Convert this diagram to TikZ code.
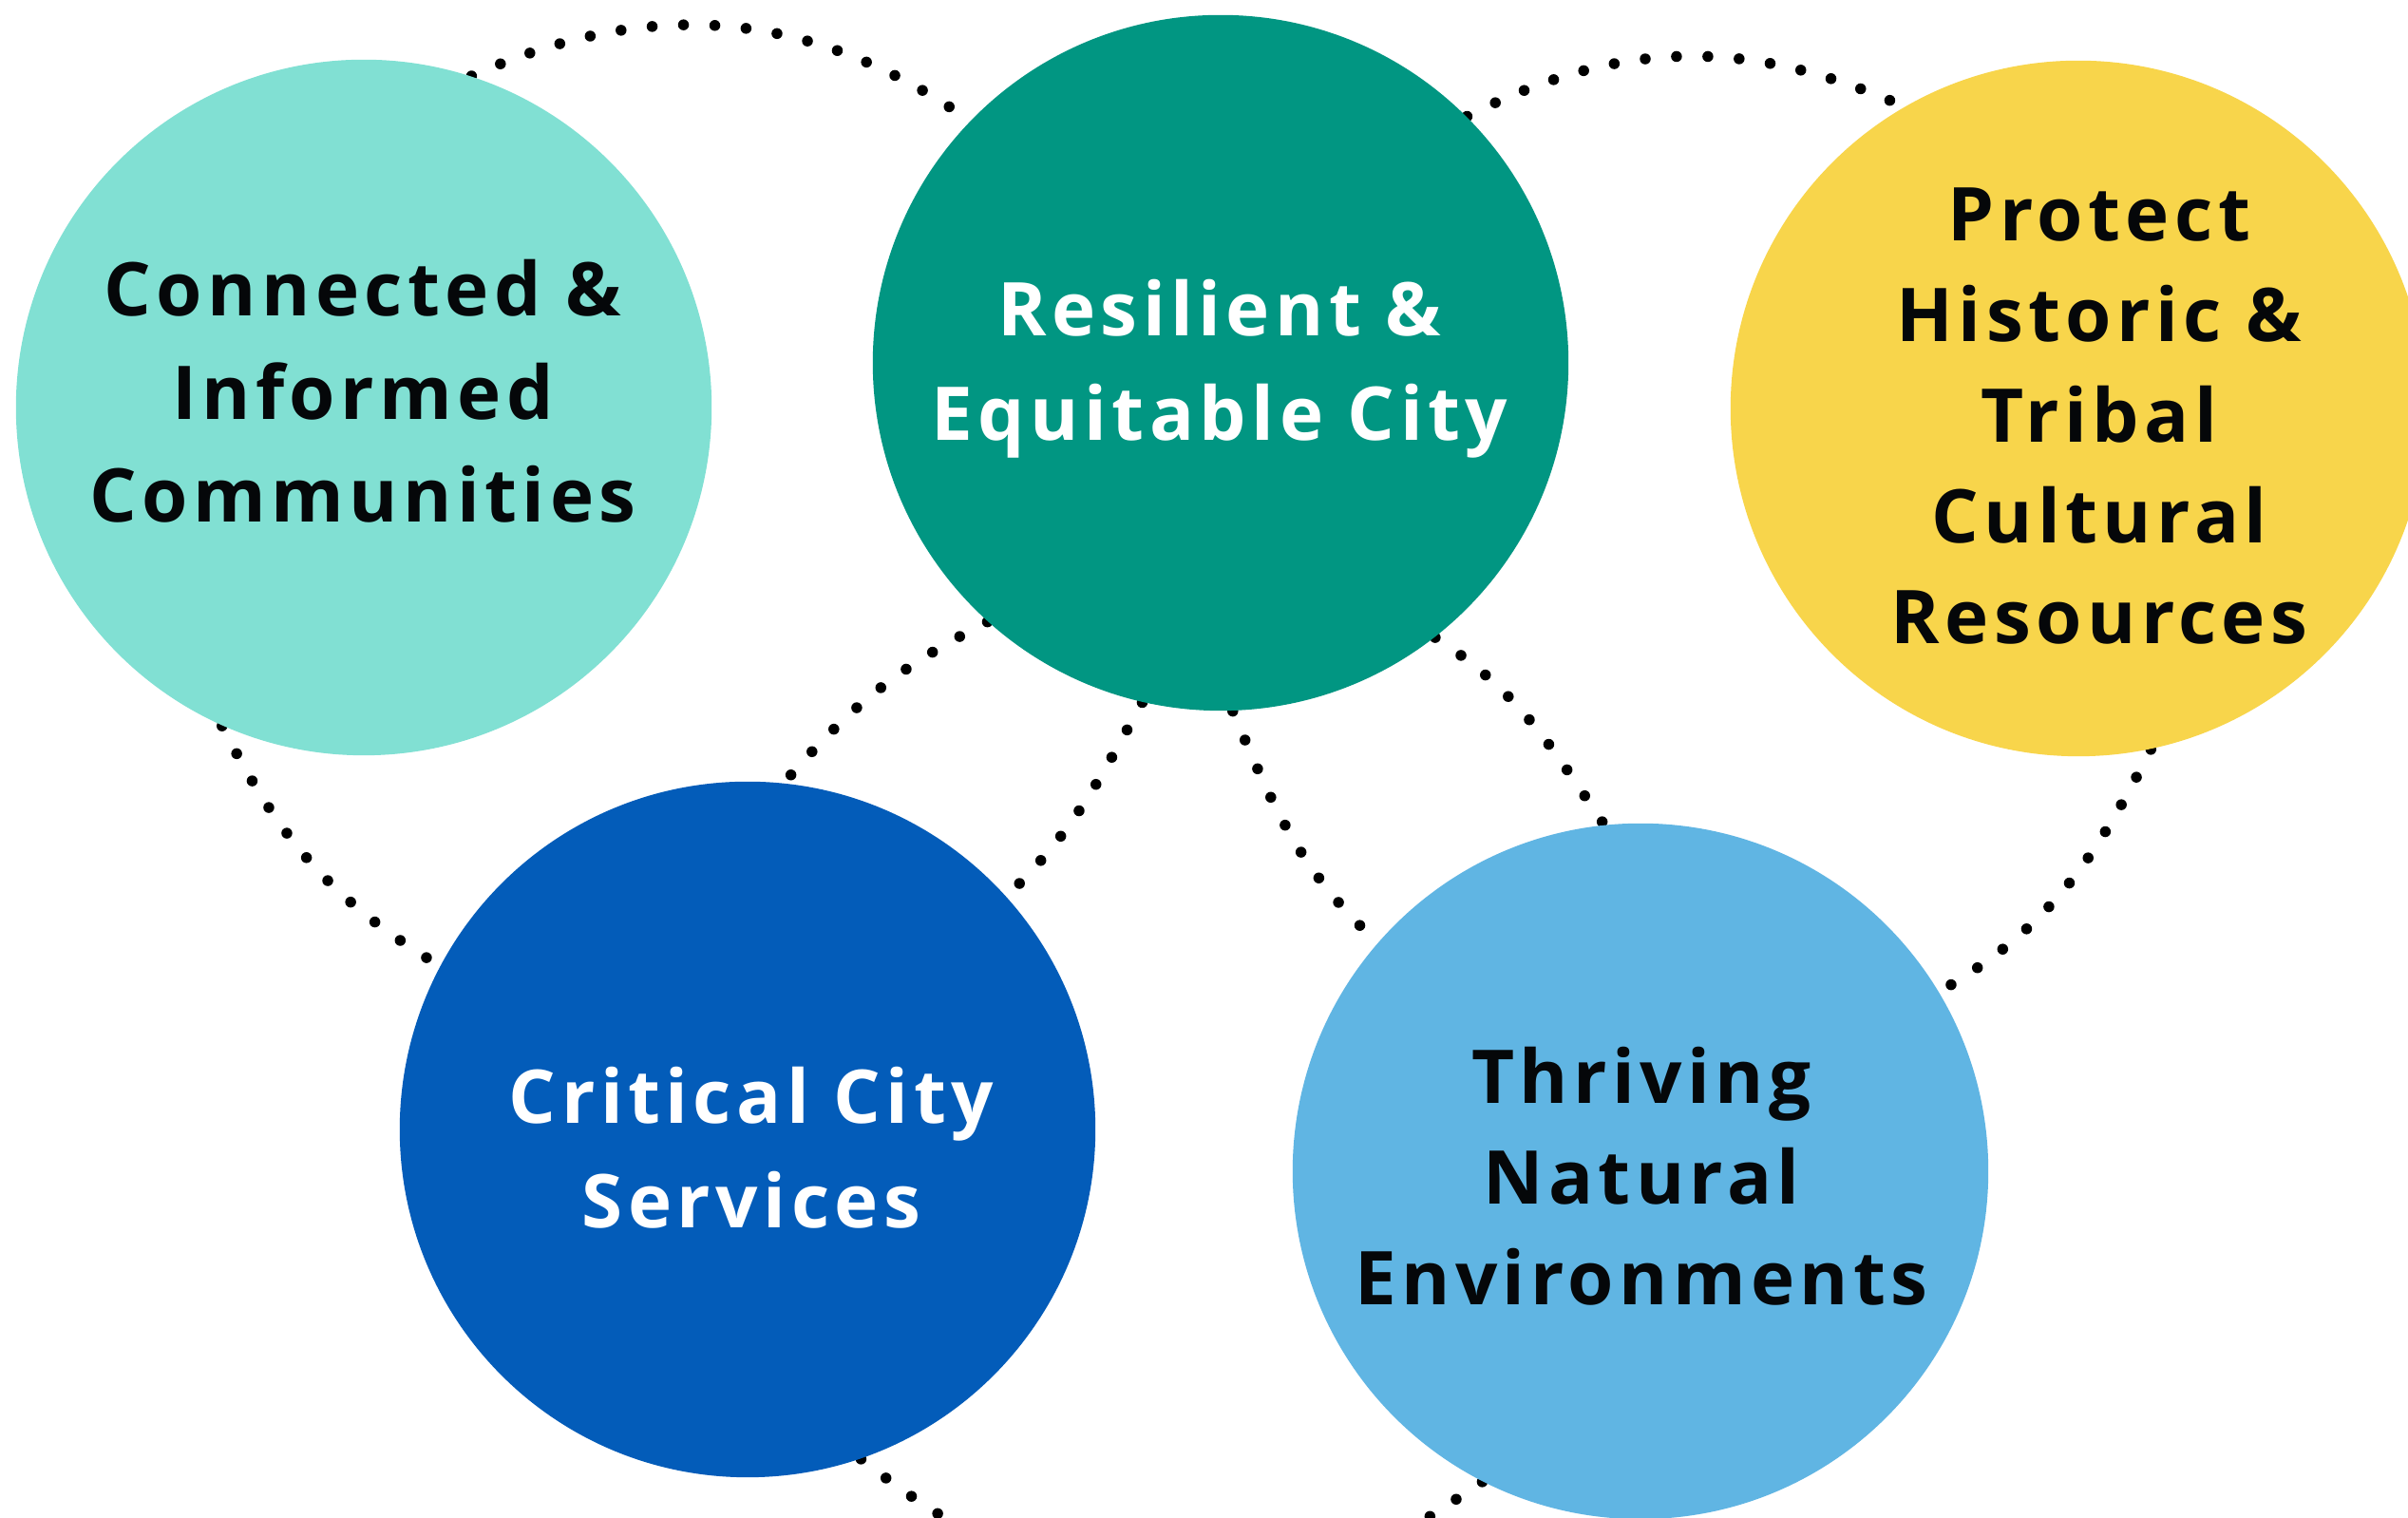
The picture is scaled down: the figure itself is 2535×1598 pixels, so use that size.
\documentclass[tikz,border=0pt]{standalone}
\usepackage{fontspec}
\newfontfamily\lblfont[LetterSpace=7]{Open Sans}
\pgfdeclarelayer{bg}
\pgfsetlayers{bg,main}
\definecolor{ciC}{HTML}{81E0D3}
\definecolor{reC}{HTML}{019682}
\definecolor{prC}{HTML}{F8D54B}
\definecolor{ccC}{HTML}{035CB9}
\definecolor{tnC}{HTML}{60B5E3}
\definecolor{ink}{HTML}{050709}
\tikzset{
  bubble/.style={circle, minimum size=7.32cm, inner sep=0pt, draw=none},
  lbl/.style={align=center, inner sep=0pt, font=\lblfont\bfseries\fontsize{22.2pt}{#1}\selectfont},
  lbl/.default={30.9pt},
  dotline/.style={draw=black, line width=0.115cm, line cap=round, dash pattern=on 0pt off 0.33cm}
}
\begin{document}
\begin{tikzpicture}[x=0.01cm, y=0.01cm]
\useasboundingbox (0,0) rectangle (2535,1598);
\clip (0,0) rectangle (2535,1598);
% circles
\node[bubble, fill=ciC] (ci) at (383,1169) {};
\node[bubble, fill=reC] (re) at (1285,1216) {};
\node[bubble, fill=prC] (pr) at (2188,1168) {};
\node[bubble, fill=ccC] (cc) at (787,409) {};
\node[bubble, fill=tnC] (tn) at (1727,365) {};
% labels
\node[lbl, text=ink] (ciT) at (382,1186) {Connected \&\\Informed\\Communities};
\node[lbl={31.2pt}, text=white] (reT) at (1284,1210) {Resilient \&\\Equitable City};
\node[lbl={30.2pt}, text=ink] (prT) at (2210,1160) {Protect\\Historic \&\\Tribal\\Cultural\\Resources};
\node[lbl={31.2pt}, text=white] (ccT) at (791,390) {Critical City\\Services};
\node[lbl={30.2pt}, text=ink] (tnT) at (1728,360) {Thriving\\Natural\\Environments};
% free ends
\coordinate (ccEnd) at (1040,-27);
\coordinate (tnEnd) at (1460,-27);
% dotted connectors, behind the circles
\begin{pgfonlayer}{bg}
\fill[white] (0,0) rectangle (2535,1598);
\draw[dotline] (ci.72) to[out=24,in=145] (re.136);
\draw[dotline] (re.45) to[out=27,in=156] (pr.120);
\draw[dotline] (ci.246) to[out=-63,in=149] (cc.152);
\draw[dotline] (re.228) to[out=207,in=49] (cc.84);
\draw[dotline] (re.257) to[out=241,in=44] (cc.42);
\draw[dotline] (re.-88) to[out=-67,in=137] (tn.139);
\draw[dotline] (re.-52) to[out=-33,in=124] (tn.96);
\draw[dotline] (pr.-78) to[out=243,in=30] (tn.31);
\draw[dotline] (cc.-71) to[out=-38,in=150] (ccEnd);
\draw[dotline] (tn.243) to[out=214,in=32] (tnEnd);
\end{pgfonlayer}
\end{tikzpicture}
\end{document}
